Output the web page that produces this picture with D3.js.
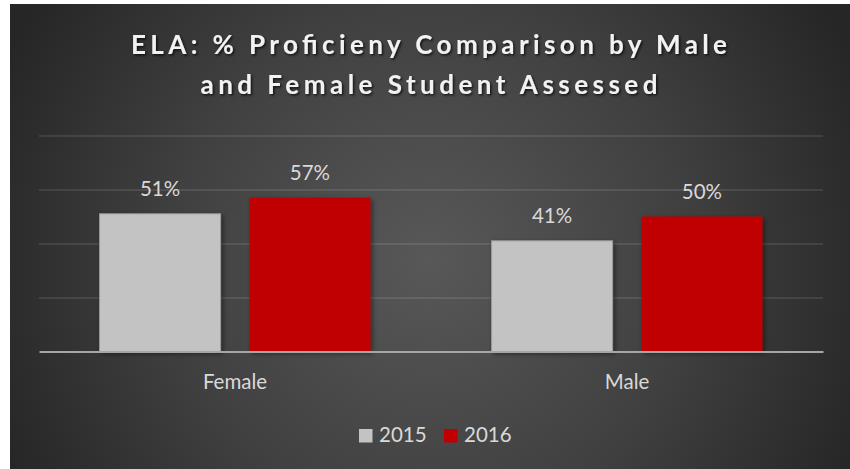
<!DOCTYPE html>
<html>
<head>
<meta charset="utf-8">
<script src="https://cdn.jsdelivr.net/npm/d3@7"></script>
<style>
  body { margin: 0; background: #fff; }
  svg text { font-family: Lato, "Open Sans", sans-serif; }
</style>
</head>
<body>
<div id="chart"></div>
<script>
const categories = ['Female', 'Male']
const years = ['2015', '2016']
const values = {
    '2015': [0.51, 0.41],
    '2016': [0.57, 0.50]
}
const colors = { '2015': '#c3c3c3', '2016': '#c00000' }
const titleLines = ['ELA: % Proficieny Comparison by Male', 'and Female Student Assessed']

const width = 850, height = 469
const margin = ({ top: 135.5, right: 27, bottom: 117.5, left: 39 })

const svg = d3.select('#chart')
    .append('svg')
    .attr('width', width)
    .attr('height', height)

const defs = svg.append('defs')
const grad = defs.append('radialGradient')
    .attr('id', 'bg')
    .attr('gradientUnits', 'userSpaceOnUse')
    .attr('cx', 430).attr('cy', 260).attr('r', 470)
grad.append('stop').attr('offset', 0).attr('stop-color', '#585858')
grad.append('stop').attr('offset', 0.55).attr('stop-color', '#404040')
grad.append('stop').attr('offset', 1).attr('stop-color', '#262626')

const shadow = defs.append('filter').attr('id', 'shadow')
    .attr('x', '-10%').attr('y', '-10%').attr('width', '130%').attr('height', '130%')
shadow.append('feDropShadow')
    .attr('dx', 2).attr('dy', 2).attr('stdDeviation', 2.5)
    .attr('flood-color', '#000').attr('flood-opacity', 0.45)

const tshadow = defs.append('filter').attr('id', 'tshadow')
tshadow.append('feDropShadow')
    .attr('dx', 1.5).attr('dy', 1.5).attr('stdDeviation', 1.2)
    .attr('flood-color', '#000').attr('flood-opacity', 0.7)

// chart area
svg.append('rect')
    .attr('x', 10).attr('y', 4)
    .attr('width', width - 10).attr('height', height - 4)
    .attr('fill', 'url(#bg)')

const x0 = d3.scaleBand()
    .domain(categories)
    .range([margin.left, width - margin.right])
    .paddingInner(0.309)
    .paddingOuter(0.1545)
const x1 = d3.scaleBand()
    .domain(years)
    .range([0, x0.bandwidth()])
    .paddingInner(0.193)
const y = d3.scaleLinear()
    .domain([0, 0.8])
    .range([height - margin.bottom, margin.top])

// gridlines
svg.append('g')
    .attr('transform', `translate(${margin.left},0)`)
    .call(d3.axisLeft(y).tickValues([0.2, 0.4, 0.6, 0.8])
        .tickSize(-(width - margin.left - margin.right)).tickFormat(''))
    .call(g => g.select('.domain').remove())
    .call(g => g.selectAll('line').attr('stroke', '#ffffff').attr('stroke-opacity', 0.13).attr('stroke-width', 1.5))

// bars
const groups = svg.append('g')
    .selectAll('g')
    .data(categories)
    .join('g')
    .attr('transform', d => `translate(${x0(d)},0)`)

groups.selectAll('rect')
    .data((d, i) => years.map(yr => ({ year: yr, value: values[yr][i] })))
    .join('rect')
    .attr('x', d => x1(d.year))
    .attr('y', d => y(d.value))
    .attr('width', x1.bandwidth())
    .attr('height', d => y(0) - y(d.value))
    .attr('fill', d => colors[d.year])
    .attr('stroke', d => d.year === '2015' ? '#9a9a9a' : 'none')
    .attr('stroke-width', 1)
    .attr('filter', 'url(#shadow)')

groups.selectAll('text')
    .data((d, i) => years.map(yr => ({ year: yr, value: values[yr][i] })))
    .join('text')
    .attr('x', d => x1(d.year) + x1.bandwidth() / 2)
    .attr('y', d => y(d.value) - 18)
    .attr('text-anchor', 'middle')
    .attr('fill', '#d9d9d9')
    .style('font-size', '20.5px')
    .text(d => d3.format('.0%')(d.value))

// baseline + category labels
svg.append('g')
    .attr('transform', `translate(0,${y(0)})`)
    .call(d3.axisBottom(x0).tickSize(0).tickPadding(23))
    .call(g => g.select('.domain').attr('stroke', '#a6a6a6').attr('stroke-width', 2.2))
    .call(g => g.selectAll('text').attr('fill', '#d9d9d9').style('font-size', '20.5px')
        .style('font-family', 'Lato, sans-serif'))

// title
svg.append('g')
    .attr('filter', 'url(#tshadow)')
    .selectAll('text')
    .data(titleLines)
    .join('text')
    .attr('x', 429)
    .attr('y', (d, i) => 53.5 + i * 40)
    .attr('text-anchor', 'middle')
    .attr('fill', '#f2f2f2')
    .attr('textLength', (d, i) => i === 0 ? 596 : 457)
    .attr('lengthAdjust', 'spacing')
    .style('font-size', '26px')
    .style('font-weight', 'bold')
    .text(d => d)

// legend
const legend = svg.append('g')
    .selectAll('g')
    .data(years)
    .join('g')
    .attr('transform', (d, i) => `translate(${359 + i * 85},429)`)
legend.append('rect')
    .attr('width', 13.5).attr('height', 13.5)
    .attr('fill', d => colors[d])
legend.append('text')
    .attr('x', 20).attr('y', 13.3)
    .attr('fill', '#d9d9d9')
    .style('font-size', '20.5px')
    .text(d => d)
</script>
</body>
</html>
